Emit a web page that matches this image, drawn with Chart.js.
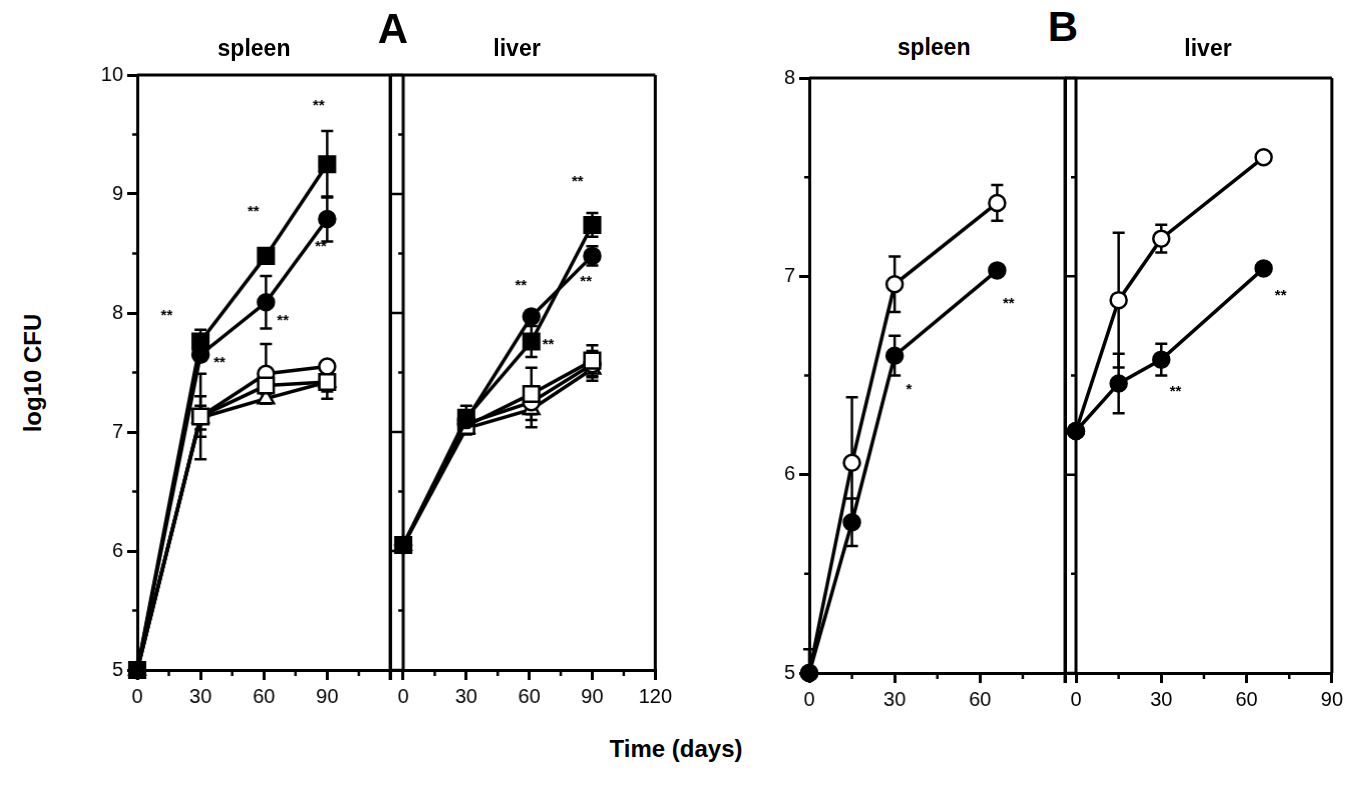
<!DOCTYPE html>
<html>
<head>
<meta charset="utf-8">
<script src="https://cdn.jsdelivr.net/npm/chart.js@4.4.0/dist/chart.umd.min.js"></script>
<style>
  body { margin: 0; background: #fff; overflow: hidden; }
  #fig { position: relative; width: 1349px; height: 790px; overflow: hidden; font-family: "Liberation Sans", Arial, sans-serif; color: #000; }
  canvas { position: absolute; }
  .t { position: absolute; font-weight: bold; white-space: nowrap; line-height: 1; transform: translateX(-50%); }
</style>
</head>
<body>
<div id="fig">
  <canvas id="aSpleen" width="340" height="660" style="left:70px;top:60px"></canvas>
  <canvas id="aLiver" width="300" height="660" style="left:388px;top:60px"></canvas>
  <canvas id="bSpleen" width="330" height="660" style="left:750px;top:63px"></canvas>
  <canvas id="bLiver" width="300" height="660" style="left:1050px;top:63px"></canvas>

  <div class="t" style="left:254px;top:37px;font-size:23px">spleen</div>
  <div class="t" style="left:393px;top:8px;font-size:42px">A</div>
  <div class="t" style="left:517px;top:37px;font-size:23px">liver</div>
  <div class="t" style="left:934px;top:36px;font-size:23px">spleen</div>
  <div class="t" style="left:1063px;top:6px;font-size:42px">B</div>
  <div class="t" style="left:1208px;top:37px;font-size:23px">liver</div>
  <div class="t" style="left:33px;top:373px;font-size:24px;transform:translate(-50%,-50%) rotate(-90deg)">log10 CFU</div>
  <div class="t" style="left:676px;top:737px;font-size:24px">Time (days)</div>
</div>
<script>
'use strict';

// sampling days
const daysA = [0, 30, 61, 90];
const daysB = [0, 15, 30, 66];

// axis ticks
const xTicksA = [0, 30, 60, 90, 120];
const xMinorA = [15, 45, 75, 105];
const yTicksA = [5, 6, 7, 8, 9, 10];
const yMinorA = [5.5, 6.5, 7.5, 8.5, 9.5];
const xTicksB = [0, 30, 60, 90];
const xMinorB = [15, 45, 75];
const yTicksB = [5, 6, 7, 8];
const yMinorB = [5.5, 6.5, 7.5];

// panel A, spleen: mean log10 CFU and sd
const aSpleenFilledSquare = [5.0, 7.76, 8.48, 9.25];
const aSpleenFilledSquareSd = [0, 0.10, 0.04, 0.28];
const aSpleenFilledCircle = [5.0, 7.65, 8.09, 8.79];
const aSpleenFilledCircleSd = [0, 0.05, 0.22, 0.19];
const aSpleenOpenSquare = [5.0, 7.13, 7.39, 7.42];
const aSpleenOpenSquareSd = [0, 0.17, 0.06, 0.14];
const aSpleenOpenCircle = [5.0, 7.13, 7.49, 7.55];
const aSpleenOpenCircleSd = [0, 0.36, 0.25, 0.04];
const aSpleenTriangle = [5.0, 7.12, 7.28, 7.42];
const aSpleenTriangleSd = [0, 0.10, 0.04, 0.08];

// panel A, liver
const aLiverFilledSquare = [6.05, 7.12, 7.76, 8.74];
const aLiverFilledSquareSd = [0.06, 0.10, 0.13, 0.10];
const aLiverFilledCircle = [6.05, 7.10, 7.97, 8.48];
const aLiverFilledCircleSd = [0.06, 0.08, 0.05, 0.08];
const aLiverOpenSquare = [6.05, 7.05, 7.32, 7.60];
const aLiverOpenSquareSd = [0.05, 0.06, 0.22, 0.13];
const aLiverOpenCircle = [6.05, 7.07, 7.25, 7.57];
const aLiverOpenCircleSd = [0.05, 0.08, 0.10, 0.11];
const aLiverTriangle = [6.05, 7.03, 7.19, 7.53];
const aLiverTriangleSd = [0.05, 0.05, 0.15, 0.10];

// panel B, spleen
const bSpleenOpenCircle = [5.0, 6.06, 6.96, 7.37];
const bSpleenOpenCircleSd = [0.12, 0.33, 0.14, 0.09];
const bSpleenFilledCircle = [5.0, 5.76, 6.60, 7.03];
const bSpleenFilledCircleSd = [0, 0.12, 0.10, 0];

// panel B, liver
const bLiverOpenCircle = [6.22, 6.88, 7.19, 7.60];
const bLiverOpenCircleSd = [0, 0.34, 0.07, 0];
const bLiverFilledCircle = [6.22, 6.46, 6.58, 7.04];
const bLiverFilledCircleSd = [0, 0.15, 0.08, 0];

// significance marks: [day, log10 CFU, text]
const aSpleenStars = [[14, 7.98, '**'], [55, 8.85, '**'], [86, 9.74, '**'], [87, 8.56, '**'], [69, 7.93, '**'], [39, 7.58, '**']];
const aLiverStars = [[83, 9.10, '**'], [56, 8.23, '**'], [87, 8.26, '**'], [69, 7.73, '**']];
const bSpleenStars = [[35, 6.43, '*'], [70, 6.86, '**']];
const bLiverStars = [[72, 6.90, '**'], [35, 6.42, '**']];

const FONT = '"Liberation Sans", Arial, sans-serif';

const markers = {
  filledSquare: { pointStyle: 'rect', pointRadius: 11, pointBackgroundColor: '#000' },
  filledCircle: { pointStyle: 'circle', pointRadius: 8, pointBackgroundColor: '#000' },
  openSquare: { pointStyle: 'rect', pointRadius: 11, pointBackgroundColor: '#fff' },
  openCircle: { pointStyle: 'circle', pointRadius: 8, pointBackgroundColor: '#fff' },
  triangle: { pointStyle: 'triangle', pointRadius: 9, pointBackgroundColor: '#fff' }
};

function decor(p) {
  return {
    id: 'decor',
    beforeDatasetsDraw(chart) {
      const { ctx, chartArea: a, scales: { x, y } } = chart;
      ctx.save();
      // error bars stay inside the plot box
      ctx.beginPath();
      ctx.rect(a.left - 10, a.top, a.right - a.left + 20, a.bottom - a.top);
      ctx.clip();
      ctx.strokeStyle = '#000';
      ctx.lineWidth = 2.5;
      p.series.forEach(s => {
        s.sd.forEach((e, j) => {
          if (!e) return;
          const px = x.getPixelForValue(p.days[j]);
          const top = y.getPixelForValue(s.values[j] + e);
          const bot = y.getPixelForValue(s.values[j] - e);
          ctx.beginPath();
          ctx.moveTo(px, top); ctx.lineTo(px, bot);
          ctx.moveTo(px - 6, top); ctx.lineTo(px + 6, top);
          ctx.moveTo(px - 6, bot); ctx.lineTo(px + 6, bot);
          ctx.stroke();
        });
      });
      ctx.restore();
    },
    afterDraw(chart) {
      const { ctx, chartArea: a, scales: { x, y } } = chart;
      ctx.save();
      ctx.strokeStyle = '#000';
      ctx.lineWidth = 3;
      ctx.beginPath();
      ctx.moveTo(a.left, a.top); ctx.lineTo(a.right, a.top);
      ctx.moveTo(a.right, a.top); ctx.lineTo(a.right, a.bottom);
      if (p.broken) {
        ctx.moveTo(a.left, a.top); ctx.lineTo(a.left, a.bottom + 10);
        const x0 = x.getPixelForValue(0);
        ctx.moveTo(x0, a.top); ctx.lineTo(x0, a.bottom);
      }
      ctx.stroke();

      ctx.lineWidth = 2.5;
      ctx.beginPath();
      p.minorX.forEach(v => {
        const px = x.getPixelForValue(v);
        ctx.moveTo(px, a.bottom); ctx.lineTo(px, a.bottom + 6);
      });
      const yx = p.broken ? x.getPixelForValue(0) : a.left;
      p.minorY.forEach(v => {
        const py = y.getPixelForValue(v);
        ctx.moveTo(yx, py); ctx.lineTo(yx - 5, py);
      });
      if (p.broken) {
        p.yTicks.forEach(v => {
          const py = y.getPixelForValue(v);
          ctx.moveTo(yx, py); ctx.lineTo(a.left, py);
        });
      }
      ctx.stroke();

      ctx.fillStyle = '#000';
      ctx.font = 'bold 15px ' + FONT;
      ctx.textAlign = 'center';
      ctx.textBaseline = 'middle';
      p.stars.forEach(([d, v, s]) => ctx.fillText(s, x.getPixelForValue(d), y.getPixelForValue(v)));
      ctx.restore();
    }
  };
}

function config(p) {
  const tickFont = { family: FONT, size: 20 };
  return {
    type: 'line',
    data: {
      datasets: p.series.map(s => Object.assign({
        data: p.days.map((d, i) => ({ x: d, y: s.values[i] })),
        borderColor: '#000',
        borderWidth: 3.5,
        pointBorderColor: '#000',
        pointBorderWidth: 2.5,
        tension: 0,
        fill: false,
        clip: false
      }, markers[s.marker]))
    },
    options: {
      responsive: false,
      maintainAspectRatio: false,
      animation: false,
      events: [],
      layout: { padding: { top: 15, left: 2, right: 2, bottom: 0 } },
      plugins: { legend: { display: false }, tooltip: { enabled: false } },
      scales: {
        x: {
          type: 'linear',
          min: p.xMin,
          max: p.xMax,
          afterBuildTicks: s => { s.ticks = p.xTicks.map(v => ({ value: v })); },
          afterFit: s => { s.height = 40; },
          ticks: {
            font: tickFont, color: '#000', padding: 5, maxRotation: 0, autoSkip: false,
            callback: v => (p.hideX.includes(v) ? '' : String(v))
          },
          grid: { display: true, drawOnChartArea: false, color: '#000', lineWidth: 3, tickLength: 10 },
          border: { display: true, color: '#000', width: 3 }
        },
        y: {
          display: !p.broken,
          min: p.yMin,
          max: p.yMax,
          afterBuildTicks: s => { s.ticks = p.yTicks.map(v => ({ value: v })); },
          afterFit: s => { s.width = 67; },
          ticks: { font: tickFont, color: '#000', padding: 4 },
          grid: { display: true, drawOnChartArea: false, color: '#000', lineWidth: 3, tickLength: 10 },
          border: { display: true, color: '#000', width: 3 }
        }
      }
    },
    plugins: [decor(p)]
  };
}

// draw once, measure the plot area, then redraw with the canvas sized to the box wanted
function panel(id, p) {
  const canvas = document.getElementById(id);
  let chart = new Chart(canvas.getContext('2d'), config(p));
  const a = chart.chartArea;
  const w = canvas.width + (p.box.right - p.box.left) - (a.right - a.left);
  const h = canvas.height + (p.box.bottom - p.box.top) - (a.bottom - a.top);
  chart.destroy();
  canvas.width = w;
  canvas.height = h;
  canvas.style.width = w + 'px';
  canvas.style.height = h + 'px';
  chart = new Chart(canvas.getContext('2d'), config(p));
  const b = chart.chartArea;
  canvas.style.left = (p.box.left - b.left) + 'px';
  canvas.style.top = (p.box.top - b.top) + 'px';
  return chart;
}

panel('aSpleen', {
  box: { left: 137, right: 390, top: 75, bottom: 670 },
  days: daysA, xMin: 0, xMax: 120, yMin: 5, yMax: 10,
  xTicks: xTicksA, hideX: [120], minorX: xMinorA, yTicks: yTicksA, minorY: yMinorA,
  broken: false, stars: aSpleenStars,
  series: [
    { marker: 'filledSquare', values: aSpleenFilledSquare, sd: aSpleenFilledSquareSd },
    { marker: 'openSquare', values: aSpleenOpenSquare, sd: aSpleenOpenSquareSd },
    { marker: 'filledCircle', values: aSpleenFilledCircle, sd: aSpleenFilledCircleSd },
    { marker: 'openCircle', values: aSpleenOpenCircle, sd: aSpleenOpenCircleSd },
    { marker: 'triangle', values: aSpleenTriangle, sd: aSpleenTriangleSd }
  ]
});

panel('aLiver', {
  box: { left: 390, right: 655, top: 75, bottom: 670 },
  days: daysA, xMin: -6.2, xMax: 120, yMin: 5, yMax: 10,
  xTicks: xTicksA, hideX: [], minorX: xMinorA, yTicks: yTicksA, minorY: yMinorA,
  broken: true, stars: aLiverStars,
  series: [
    { marker: 'filledSquare', values: aLiverFilledSquare, sd: aLiverFilledSquareSd },
    { marker: 'filledCircle', values: aLiverFilledCircle, sd: aLiverFilledCircleSd },
    { marker: 'openSquare', values: aLiverOpenSquare, sd: aLiverOpenSquareSd },
    { marker: 'openCircle', values: aLiverOpenCircle, sd: aLiverOpenCircleSd },
    { marker: 'triangle', values: aLiverTriangle, sd: aLiverTriangleSd }
  ]
});

panel('bSpleen', {
  box: { left: 809, right: 1065, top: 78, bottom: 673 },
  days: daysB, xMin: 0, xMax: 90, yMin: 5, yMax: 8,
  xTicks: xTicksB, hideX: [90], minorX: xMinorB, yTicks: yTicksB, minorY: yMinorB,
  broken: false, stars: bSpleenStars,
  series: [
    { marker: 'filledCircle', values: bSpleenFilledCircle, sd: bSpleenFilledCircleSd },
    { marker: 'openCircle', values: bSpleenOpenCircle, sd: bSpleenOpenCircleSd }
  ]
});

panel('bLiver', {
  box: { left: 1065, right: 1332, top: 78, bottom: 673 },
  days: daysB, xMin: -3.87, xMax: 90, yMin: 5, yMax: 8,
  xTicks: xTicksB, hideX: [], minorX: xMinorB, yTicks: yTicksB, minorY: yMinorB,
  broken: true, stars: bLiverStars,
  series: [
    { marker: 'filledCircle', values: bLiverFilledCircle, sd: bLiverFilledCircleSd },
    { marker: 'openCircle', values: bLiverOpenCircle, sd: bLiverOpenCircleSd }
  ]
});
</script>
</body>
</html>
